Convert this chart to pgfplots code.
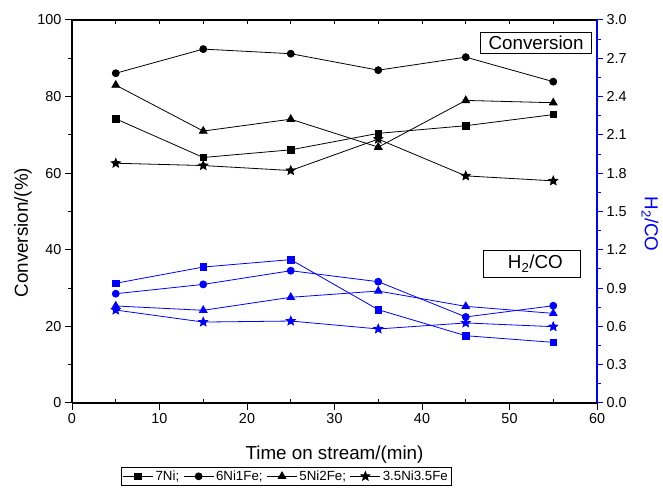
\documentclass[border=0pt]{standalone}
\usepackage{fontspec}
\setmainfont{Liberation Sans}
\usepackage{pgfplots}
\pgfplotsset{compat=1.18}

\definecolor{h2blue}{RGB}{0,0,255}

\newcommand\tickfont{\fontsize{14.4}{16}\selectfont}
\newcommand\labfont{\fontsize{18.8}{21}\selectfont}
\newcommand\legfont{\fontsize{13.3}{15}\selectfont}

% filled five-pointed star
\pgfdeclareplotmark{fstar}{%
  \pgfpathmoveto{\pgfpointpolar{90}{\pgfplotmarksize}}%
  \pgfpathlineto{\pgfpointpolar{126}{0.45\pgfplotmarksize}}%
  \pgfpathlineto{\pgfpointpolar{162}{\pgfplotmarksize}}%
  \pgfpathlineto{\pgfpointpolar{198}{0.45\pgfplotmarksize}}%
  \pgfpathlineto{\pgfpointpolar{234}{\pgfplotmarksize}}%
  \pgfpathlineto{\pgfpointpolar{270}{0.45\pgfplotmarksize}}%
  \pgfpathlineto{\pgfpointpolar{306}{\pgfplotmarksize}}%
  \pgfpathlineto{\pgfpointpolar{342}{0.45\pgfplotmarksize}}%
  \pgfpathlineto{\pgfpointpolar{18}{\pgfplotmarksize}}%
  \pgfpathlineto{\pgfpointpolar{54}{0.45\pgfplotmarksize}}%
  \pgfpathclose
  \pgfusepathqfillstroke
}

\pgfplotsset{
  base/.style={
    scale only axis, width=525pt, height=383pt,
    xmin=0, xmax=60,
    /pgf/number format/assume math mode=true,
    tick label style={font=\tickfont},
    label style={font=\labfont},
    axis line style={line width=1.1pt},
    every tick/.style={line width=1pt},
  },
  sq/.style={mark=square*, mark size=3.3pt},
  ci/.style={mark=*, mark size=3.5pt},
  tr/.style={mark=triangle*, mark size=4.4pt},
  st/.style={mark=fstar, mark size=4.7pt},
}

\begin{document}
\begin{tikzpicture}
% top edge with inward ticks every 5 min
\begin{axis}[base, ymin=0, ymax=100,
  axis y line=none, axis x line*=top,
  xtick={0,5,...,60}, xticklabels={},
  tick align=inside, major tick length=4pt]
\end{axis}

% H2/CO ratio on the right-hand axis
\begin{axis}[base, ymin=0, ymax=3,
  axis x line=none, axis y line*=right,
  ytick={0,0.3,0.6,0.9,1.2,1.5,1.8,2.1,2.4,2.7,3.0},
  minor y tick num=1,
  tick align=outside, major tick length=6pt, minor tick length=3.5pt,
  y axis line style={h2blue},
  ytick style={h2blue},
  yticklabel style={/pgf/number format/fixed,
    /pgf/number format/fixed zerofill, /pgf/number format/precision=1},
  ylabel={H\textsubscript{2}/CO},
  ylabel style={h2blue, rotate=180, at={(axis description cs:1.101,0.467)}, anchor=center}]
\addplot[h2blue, line width=0.8pt, sq] coordinates {(5,0.938) (15,1.065) (25,1.123) (35,0.731) (45,0.527) (55,0.475)};
\addplot[h2blue, line width=0.8pt, ci] coordinates {(5,0.856) (15,0.929) (25,1.036) (35,0.950) (45,0.674) (55,0.762)};
\addplot[h2blue, line width=0.8pt, tr] coordinates {(5,0.760) (15,0.726) (25,0.828) (35,0.877) (45,0.757) (55,0.702)};
\addplot[h2blue, line width=0.8pt, st] coordinates {(5,0.728) (15,0.634) (25,0.642) (35,0.580) (45,0.627) (55,0.598)};
\end{axis}

% conversion on the left-hand axis
\begin{axis}[base, ymin=0, ymax=100, clip=false,
  axis x line*=bottom, axis y line*=left,
  xtick={0,10,...,60}, ytick={0,20,...,100},
  minor y tick num=1,
  tick align=outside, major tick length=7pt, minor tick length=4pt,
  extra x ticks={5,15,25,35,45,55}, extra x tick labels={},
  extra x tick style={tick align=inside, major tick length=4pt},
  xlabel={Time on stream/(min)},
  xlabel style={at={(axis description cs:0.5,-0.136)}, anchor=center},
  ylabel={Conversion/(\%)},
  ylabel style={at={(axis description cs:-0.0933,0.445)}, anchor=center},
  legend columns=4,
  legend image code/.code={%
    \draw[mark repeat=2, mark phase=2, #1]
      plot coordinates {(0pt,0pt) (15pt,0pt) (30pt,0pt)};},
  legend style={at={(axis description cs:0.0933,-0.167)}, anchor=north west,
    draw=black, line width=0.6pt, font=\legfont, inner sep=1.5pt,
    /tikz/every even column/.append style={column sep=2pt}},
  legend cell align=left]
\coordinate (sw) at (rel axis cs:0,0);
\addplot[black, line width=0.8pt, sq] coordinates {(5,74.2) (15,64.1) (25,66.1) (35,70.4) (45,72.4) (55,75.3)};
\addlegendentry{7Ni;}
\addplot[black, line width=0.8pt, ci] coordinates {(5,86.1) (15,92.4) (25,91.2) (35,86.9) (45,90.3) (55,83.9)};
\addlegendentry{6Ni1Fe;}
\addplot[black, line width=0.8pt, tr] coordinates {(5,83.0) (15,71.0) (25,74.1) (35,66.8) (45,79.0) (55,78.4)};
\addlegendentry{5Ni2Fe;}
\addplot[black, line width=0.8pt, st] coordinates {(5,62.6) (15,62.0) (25,60.7) (35,68.9) (45,59.3) (55,58.0)};
\addlegendentry{3.5Ni3.5Fe}
\node[draw=black, line width=0.6pt, font=\labfont, inner sep=0pt,
  minimum width=111pt, minimum height=21pt]
  at (axis description cs:0.884,0.941) {Conversion};
\node[draw=black, line width=0.6pt, font=\labfont, inner sep=0pt,
  minimum width=97pt, minimum height=27pt]
  at (axis description cs:0.875,0.364) {\hspace{8pt}H\textsubscript{2}/CO};
\fill[black] (axis description cs:0.712,-0.167) rectangle (axis description cs:0.724,-0.201);
\end{axis}

\pgfresetboundingbox
\path[use as bounding box] ([shift={(-72pt,-86pt)}]sw) rectangle ([shift={(591pt,403pt)}]sw);
\end{tikzpicture}
\end{document}
